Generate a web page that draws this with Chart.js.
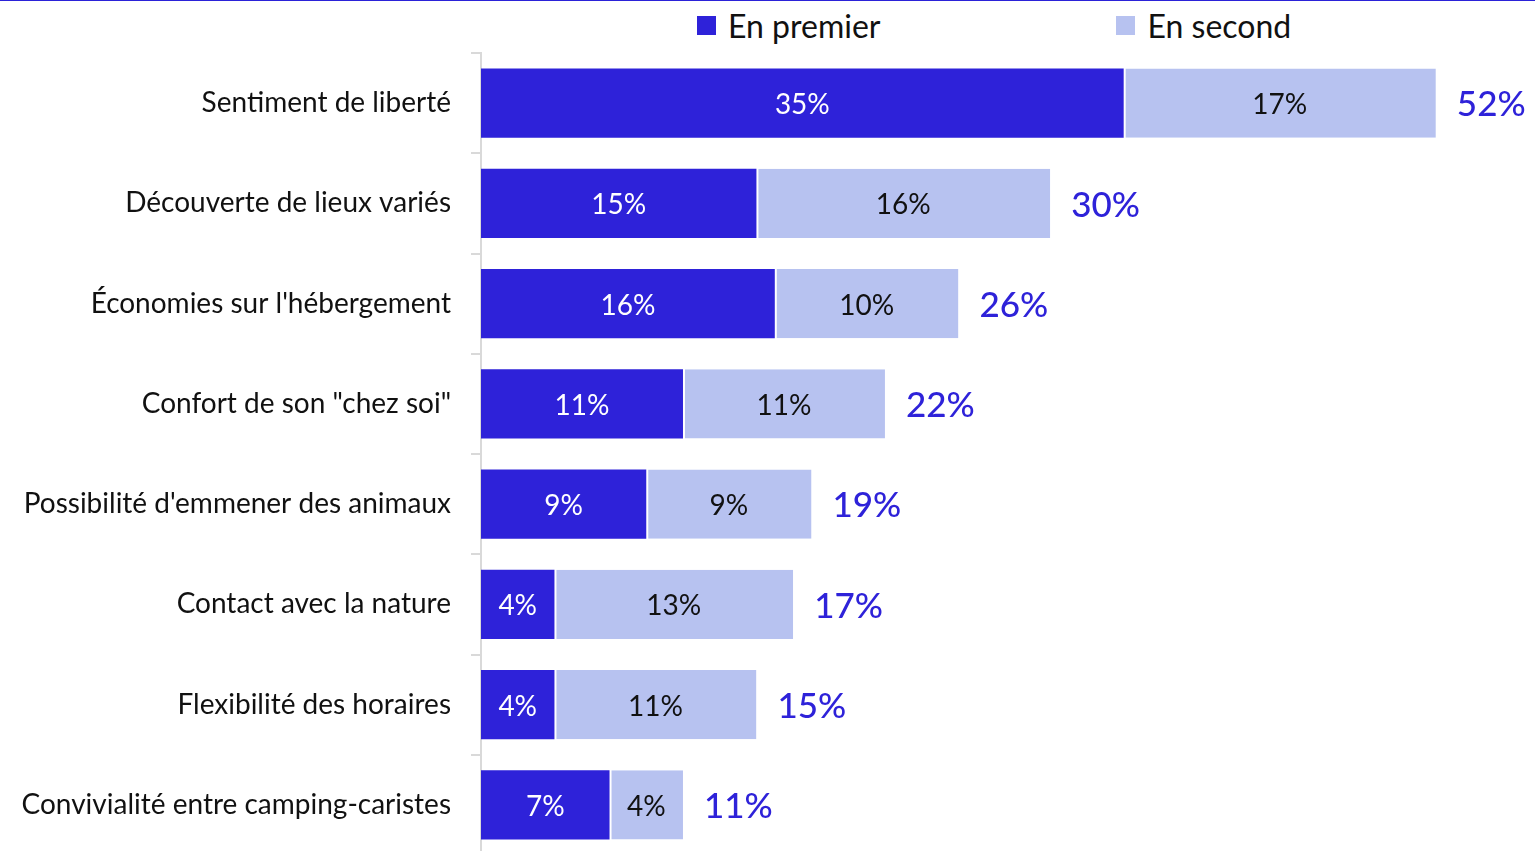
<!DOCTYPE html>
<html lang="fr">
<head>
<meta charset="utf-8">
<title>Motivations camping-car</title>
<script src="https://cdn.jsdelivr.net/npm/chart.js@4/dist/chart.umd.min.js"></script>
<style>
  html, body { margin: 0; padding: 0; background: #fff; overflow: hidden; }
  #wrap { position: relative; width: 1535px; height: 855px; }
  #rule { position: absolute; top: 0; left: 0; width: 1535px; height: 1px; background: #2b22d8; z-index: 2; }
  #legend { position: absolute; top: 6px; left: 697px; display: flex; font-family: Lato, "Open Sans", sans-serif; font-size: 32px; color: #111; }
  .item { display: flex; align-items: center; }
  .item + .item { margin-left: 236px; }
  .swatch { width: 19px; height: 19px; margin-right: 12px; }
  #chart { position: absolute; top: 0; left: 0; }
</style>
</head>
<body>
<div id="wrap">
  <div id="rule"></div>
  <div id="legend"></div>
  <canvas id="chart" width="1535" height="855"></canvas>
</div>
<script>
const categories = [
    "Sentiment de liberté",
    "Découverte de lieux variés",
    "Économies sur l'hébergement",
    "Confort de son \"chez soi\"",
    "Possibilité d'emmener des animaux",
    "Contact avec la nature",
    "Flexibilité des horaires",
    "Convivialité entre camping-caristes"
];
const firstValues = [35, 15, 16, 11, 9, 4, 4, 7];
const secondValues = [17, 16, 10, 11, 9, 13, 11, 4];
const totalValues = [52, 30, 26, 22, 19, 17, 15, 11];
const seriesNames = ["En premier", "En second"];

const darkBlue = "#2e22d9";
const lightBlue = "#b7c2f0";
const fontFamily = "Lato, 'Open Sans', sans-serif";

// legend in plain html above the plot
const legend = document.getElementById("legend");
[darkBlue, lightBlue].forEach((c, i) => {
    const div = document.createElement("div");
    div.className = "item";
    div.innerHTML = `<span class="swatch" style="background:${c}"></span>${seriesNames[i]}`;
    legend.appendChild(div);
});

// segment values inside the bars, totals after them
const barLabels = {
    id: "barLabels",
    afterDatasetsDraw(chart) {
        const ctx = chart.ctx;
        ctx.save();
        ctx.textBaseline = "middle";
        ctx.textAlign = "center";
        ctx.font = "28px " + fontFamily;
        chart.data.datasets.forEach((ds, di) => {
            const meta = chart.getDatasetMeta(di);
            meta.data.forEach((bar, i) => {
                ctx.fillStyle = di === 0 ? "#ffffff" : "#111111";
                ctx.fillText(ds.data[i] + "%", (bar.x + bar.base) / 2, bar.y + 2);
            });
        });
        const last = chart.getDatasetMeta(chart.data.datasets.length - 1);
        ctx.textAlign = "left";
        ctx.font = "500 35px " + fontFamily;
        ctx.fillStyle = darkBlue;
        last.data.forEach((bar, i) => {
            ctx.fillText(totalValues[i] + "%", bar.x + 21, bar.y + 2);
        });
        ctx.restore();
    }
};

const segmentStyle = {
    borderColor: "#ffffff",
    borderWidth: { left: 2, right: 0, top: 0, bottom: 0 },
    borderSkipped: false,
    barPercentage: 0.69,
    categoryPercentage: 1
};

const ctx = document.getElementById("chart").getContext("2d");
const chart = new Chart(ctx, {
    type: "bar",
    data: {
        labels: categories,
        datasets: [
            Object.assign({ label: seriesNames[0], data: firstValues, backgroundColor: darkBlue }, segmentStyle,
                { borderWidth: 0 }),
            Object.assign({ label: seriesNames[1], data: secondValues, backgroundColor: lightBlue }, segmentStyle)
        ]
    },
    options: {
        indexAxis: "y",
        responsive: false,
        animation: false,
        layout: { padding: { top: 53, right: 0, bottom: 0, left: 0 } },
        plugins: {
            legend: { display: false },
            tooltip: { enabled: false }
        },
        scales: {
            x: {
                stacked: true,
                display: false,
                min: 0,
                max: 57.4
            },
            y: {
                stacked: true,
                afterFit(scale) {
                    scale.width = 481;
                    // bars run right to the canvas edges, no room kept for label overhang
                    scale.paddingTop = 0;
                    scale.paddingBottom = 0;
                },
                border: { display: true, color: "#d9d9d9", width: 2 },
                grid: {
                    offset: true,
                    drawOnChartArea: false,
                    drawTicks: true,
                    tickLength: 10,
                    color: "#d9d9d9",
                    lineWidth: 2
                },
                ticks: {
                    padding: 20,
                    color: "#111111",
                    font: { family: fontFamily, size: 28 }
                }
            }
        }
    },
    plugins: [barLabels]
});
</script>
</body>
</html>
